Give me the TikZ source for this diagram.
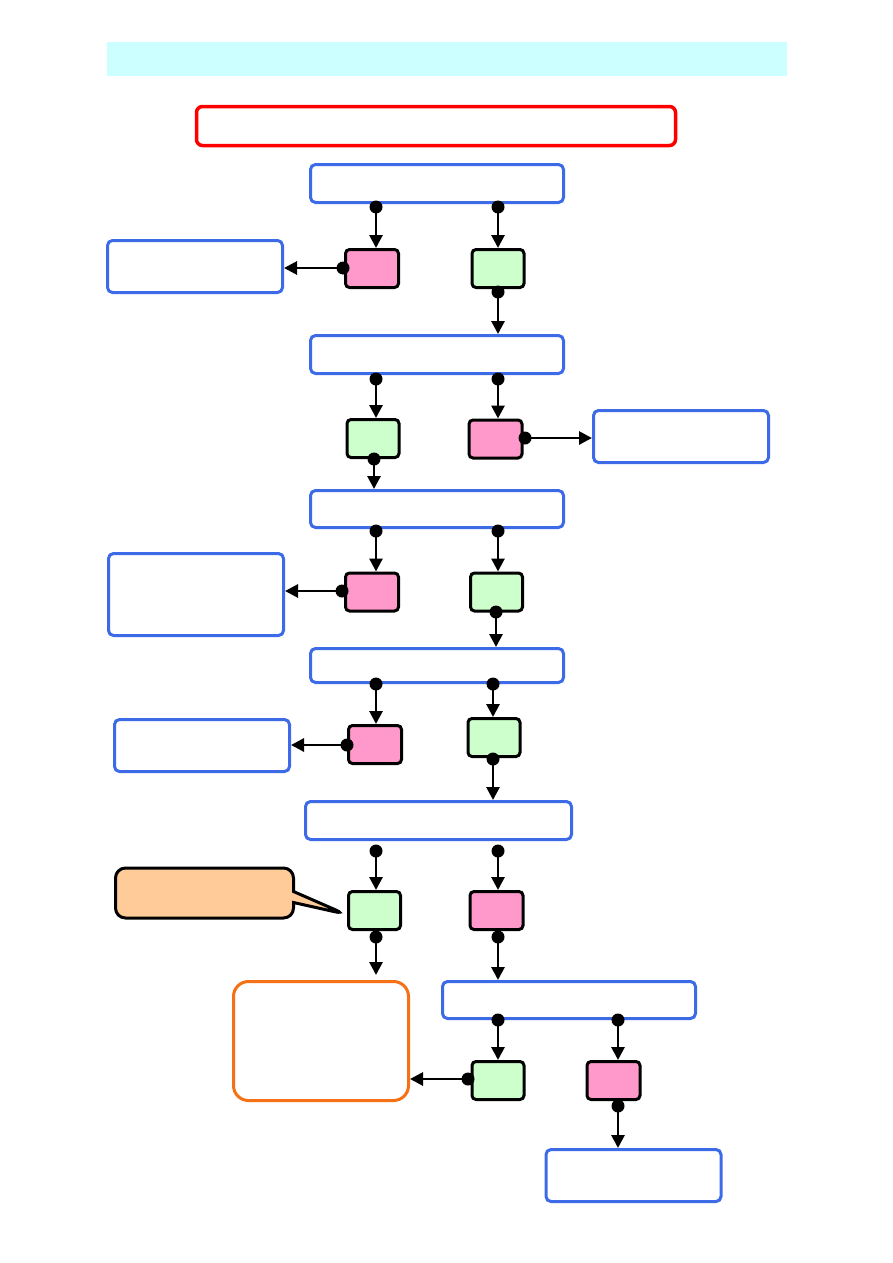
\documentclass[tikz,border=0pt]{standalone}
\usepackage{xcolor}
\usetikzlibrary{shapes.callouts, arrows.meta, positioning}

\definecolor{bannercyan}{HTML}{CCFFFF}
\definecolor{qblue}{HTML}{3D6BE8}
\definecolor{nopink}{HTML}{FF99CC}
\definecolor{yesgreen}{HTML}{CCFFCC}
\definecolor{tiporange}{HTML}{FFCC99}
\definecolor{endorange}{HTML}{F47215}

\begin{document}
\begin{tikzpicture}[x=1pt, y=-1pt]
    \tikzstyle{question} = [rectangle, draw=qblue, line width=3pt, rounded corners=5pt, fill=white, minimum width=253pt, minimum height=38pt, inner sep=0pt]
    \tikzstyle{result} = [rectangle, draw=qblue, line width=3pt, rounded corners=5pt, fill=white, minimum width=175pt, minimum height=52pt, inner sep=0pt]
    \tikzstyle{nobox} = [rectangle, draw, line width=3pt, rounded corners=4pt, fill=nopink, minimum width=53pt, minimum height=38pt, inner sep=0pt]
    \tikzstyle{yesbox} = [rectangle, draw, line width=3pt, rounded corners=4pt, fill=yesgreen, minimum width=52pt, minimum height=38pt, inner sep=0pt]
    \tikzstyle{dot} = [circle, fill, inner sep=0pt, minimum size=13pt]
    \tikzstyle{line} = [draw, line width=2.8pt, -{Triangle[length=13pt, width=13pt]}]

    \useasboundingbox (0,0) rectangle (893,1263);

    % heading
    \node [fill=bannercyan, minimum width=680pt, minimum height=34pt, inner sep=0pt] (banner) at (447,59) {};
    \node [rectangle, draw=red, line width=3.5pt, rounded corners=6pt, minimum width=479pt, minimum height=39pt, inner sep=0pt] (start) at (436,126) {};

    % step 1
    \node [question] (q1) at (437,183.5) {};
    \node [nobox] (no1) at (372,268.5) {};
    \node [yesbox] (yes1) at (498,268.5) {};
    \node [result] (res1) at (195,266.5) {};

    % step 2
    \node [question] (q2) at (437,354.5) {};
    \node [yesbox] (yes2) at (373,438.5) {};
    \node [nobox] (no2) at (495.5,439) {};
    \node [result] (res2) at (681,436.5) {};

    % step 3
    \node [question, minimum height=37pt] (q3) at (437,509) {};
    \node [nobox] (no3) at (372,592) {};
    \node [yesbox] (yes3) at (496.5,592) {};
    \node [result, minimum height=82pt] (res3) at (196,594.5) {};

    % step 4
    \node [question, minimum height=34pt] (q4) at (437,665.5) {};
    \node [nobox] (no4) at (375,744.5) {};
    \node [yesbox] (yes4) at (494,737.5) {};
    \node [result] (res4) at (202,745.5) {};

    % step 5
    \node [question, minimum width=266pt] (q5) at (438.5,820.5) {};
    \node [yesbox] (yes5) at (374.5,910.5) {};
    \node [nobox] (no5) at (496.5,910.5) {};
    \node [rectangle callout, draw, line width=3pt, rounded corners=10pt, fill=tiporange, minimum width=178pt, minimum height=50pt, inner sep=0pt, callout pointer width=11pt, callout absolute pointer={(345,914)}] (tip) at (204.5,893) {};
    \node [rectangle, draw=endorange, line width=3pt, rounded corners=15pt, fill=white, minimum width=175pt, minimum height=119pt, inner sep=0pt] (done) at (321,1041) {};

    % step 6
    \node [question, minimum height=37pt] (q6) at (569,1000) {};
    \node [yesbox] (yes6) at (498,1080.5) {};
    \node [nobox] (no6) at (613.5,1080.5) {};
    \node [result] (res6) at (633.5,1175.5) {};

    % connector dots
    \node [dot] (q1n) at (376,207) {};
    \node [dot] (q1y) at (498,207) {};
    \node [dot] (no1o) at (343,268) {};
    \node [dot] (yes1o) at (498,292) {};
    \node [dot] (q2y) at (376,379) {};
    \node [dot] (q2n) at (498,379) {};
    \node [dot] (no2o) at (525,438) {};
    \node [dot] (yes2o) at (374,459) {};
    \node [dot] (q3n) at (376,531) {};
    \node [dot] (q3y) at (498,531) {};
    \node [dot] (no3o) at (342,591) {};
    \node [dot] (yes3o) at (496,612) {};
    \node [dot] (q4n) at (376,684) {};
    \node [dot] (q4y) at (493,684) {};
    \node [dot] (no4o) at (347,745) {};
    \node [dot] (yes4o) at (493,759) {};
    \node [dot] (q5y) at (376,851) {};
    \node [dot] (q5n) at (498,851) {};
    \node [dot] (yes5o) at (376,937) {};
    \node [dot] (no5o) at (498,937) {};
    \node [dot] (q6y) at (498,1020) {};
    \node [dot] (q6n) at (618,1020) {};
    \node [dot] (yes6o) at (468,1079) {};
    \node [dot] (no6o) at (618,1106) {};

    % connectors
    \path [line] (q1n.center) -- (q1n |- no1.north);
    \path [line] (q1y.center) -- (q1y |- yes1.north);
    \path [line] (no1o.center) -- (no1o -| res1.east);
    \path [line] (yes1o.center) -- (yes1o |- q2.north);
    \path [line] (q2y.center) -- (q2y |- yes2.north);
    \path [line] (q2n.center) -- (q2n |- no2.north);
    \path [line] (no2o.center) -- (no2o -| res2.west);
    \path [line] (yes2o.center) -- (yes2o |- q3.north);
    \path [line] (q3n.center) -- (q3n |- no3.north);
    \path [line] (q3y.center) -- (q3y |- yes3.north);
    \path [line] (no3o.center) -- (no3o -| res3.east);
    \path [line] (yes3o.center) -- (yes3o |- q4.north);
    \path [line] (q4n.center) -- (q4n |- no4.north);
    \path [line] (q4y.center) -- (q4y |- yes4.north);
    \path [line] (no4o.center) -- (no4o -| res4.east);
    \path [line] (yes4o.center) -- (yes4o |- q5.north);
    \path [line] (q5y.center) -- (q5y |- yes5.north);
    \path [line] (q5n.center) -- (q5n |- no5.north);
    \path [line, shorten >=5pt] (yes5o.center) -- (yes5o |- done.north);
    \path [line] (no5o.center) -- (no5o |- q6.north);
    \path [line] (q6y.center) -- (q6y |- yes6.north);
    \path [line] (q6n.center) -- (q6n |- no6.north);
    \path [line] (yes6o.center) -- (yes6o -| done.east);
    \path [line] (no6o.center) -- (no6o |- res6.north);
\end{tikzpicture}
\end{document}
